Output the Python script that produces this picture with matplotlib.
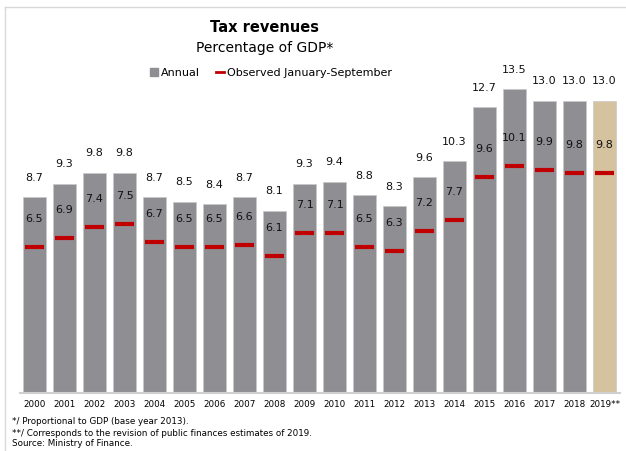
import matplotlib
matplotlib.use("Agg")
import matplotlib.pyplot as plt
from matplotlib.lines import Line2D
from matplotlib.patches import Patch

years = ['2000', '2001', '2002', '2003', '2004', '2005', '2006', '2007', '2008', '2009',
         '2010', '2011', '2012', '2013', '2014', '2015', '2016', '2017', '2018', '2019**']
annual = [8.7, 9.3, 9.8, 9.8, 8.7, 8.5, 8.4, 8.7, 8.1, 9.3,
          9.4, 8.8, 8.3, 9.6, 10.3, 12.7, 13.5, 13.0, 13.0, 13.0]
observed = [6.5, 6.9, 7.4, 7.5, 6.7, 6.5, 6.5, 6.6, 6.1, 7.1,
            7.1, 6.5, 6.3, 7.2, 7.7, 9.6, 10.1, 9.9, 9.8, 9.8]

gray = '#8f8e93'
tan = '#d5c29e'
red = '#c00000'

W, H = 626, 451
fig = plt.figure(figsize=(W / 100, H / 100), dpi=100)
# axes: baseline at y=393 px, 30 px per bar
ax = fig.add_axes([19.5 / W, (H - 393) / H, 600 / W, 333 / H])
x = list(range(len(years)))
colors = [gray] * (len(years) - 1) + [tan]
ax.bar(x, annual, width=0.77, color=colors, edgecolor='#c8c8c8', linewidth=0.5, zorder=2)
ax.hlines(observed, [i - 0.32 for i in x], [i + 0.32 for i in x], color=red, lw=3, zorder=3)

for i in x:
    ax.annotate(f'{annual[i]:.1f}', (i, annual[i]), xytext=(0, 14), textcoords='offset points',
                ha='center', va='center', fontsize=8, color='#111111')
    ax.annotate(f'{observed[i]:.1f}', (i, observed[i]), xytext=(0, 20), textcoords='offset points',
                ha='center', va='center', fontsize=8, color='#111111')

ax.set_xlim(-0.5, len(years) - 0.5)
ax.set_ylim(0, 333 / 22.5)
ax.set_xticks(x)
ax.set_xticklabels(years, fontsize=6.3)
ax.tick_params(axis='x', length=0, pad=5)
ax.set_yticks([])
for s in ['top', 'right', 'left']:
    ax.spines[s].set_visible(False)
ax.spines['bottom'].set_color('#d0d0d0')
ax.spines['bottom'].set_linewidth(1.5)

fig.text(265 / W, 1 - 27 / H, 'Tax revenues', ha='center', va='center', fontsize=10.5, fontweight='bold')
fig.text(265 / W, 1 - 48 / H, 'Percentage of GDP*', ha='center', va='center', fontsize=10)

handles = [Patch(color=gray), Line2D([], [], color=red, lw=2)]
fig.legend(handles, ['Annual', 'Observed January-September'], loc='center',
           bbox_to_anchor=(271 / W, 1 - 73 / H), ncol=2, frameon=False, fontsize=8,
           handlelength=0.7, handleheight=0.7, handletextpad=0.3, columnspacing=1.4)

notes = ['*/ Proportional to GDP (base year 2013).',
         '**/ Corresponds to the revision of public finances estimates of 2019.',
         'Source: Ministry of Finance.']
for k, t in enumerate(notes):
    fig.text(12 / W, 1 - (422 + 11 * k) / H, t, ha='left', va='center', fontsize=6.3)

# light frame
fig.add_artist(Line2D([5 / W, 1], [1 - 7 / H, 1 - 7 / H], color='#d9d9d9', lw=1))
fig.add_artist(Line2D([5 / W, 5 / W], [0, 1 - 7 / H], color='#d9d9d9', lw=1))

fig.savefig('out.png', dpi=100, facecolor='white')
